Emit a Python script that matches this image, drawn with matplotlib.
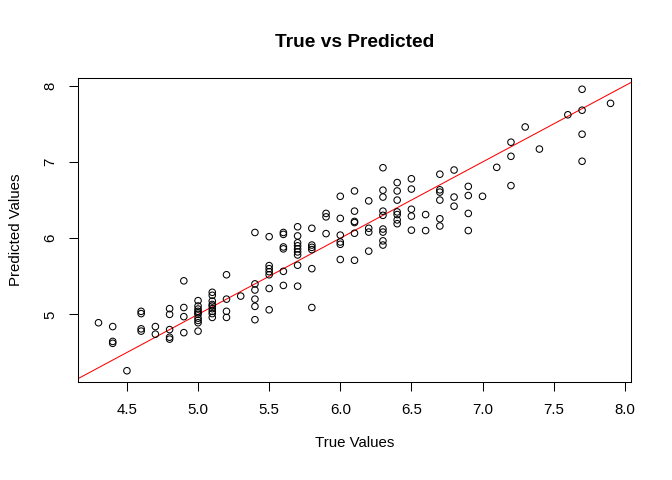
import matplotlib
matplotlib.use("Agg")
import matplotlib.pyplot as plt
import numpy as np

plt.rcParams['font.family'] = ['Liberation Sans', 'DejaVu Sans']

true_values = [
    4.3,
    4.4, 4.4, 4.4,
    4.5,
    4.6, 4.6, 4.6, 4.6,
    4.7, 4.7,
    4.8, 4.8, 4.8, 4.8, 4.8,
    4.9, 4.9, 4.9, 4.9,
    5.0, 5.0, 5.0, 5.0, 5.0, 5.0, 5.0, 5.0, 5.0, 5.0,
    5.1, 5.1, 5.1, 5.1, 5.1, 5.1, 5.1, 5.1, 5.1,
    5.2, 5.2, 5.2, 5.2,
    5.3,
    5.4, 5.4, 5.4, 5.4, 5.4, 5.4,
    5.5, 5.5, 5.5, 5.5, 5.5, 5.5, 5.5,
    5.6, 5.6, 5.6, 5.6, 5.6, 5.6,
    5.7, 5.7, 5.7, 5.7, 5.7, 5.7, 5.7, 5.7, 5.7,
    5.8, 5.8, 5.8, 5.8, 5.8, 5.8,
    5.9, 5.9, 5.9,
    6.0, 6.0, 6.0, 6.0, 6.0, 6.0,
    6.1, 6.1, 6.1, 6.1, 6.1, 6.1,
    6.2, 6.2, 6.2, 6.2,
    6.3, 6.3, 6.3, 6.3, 6.3, 6.3, 6.3, 6.3, 6.3,
    6.4, 6.4, 6.4, 6.4, 6.4, 6.4, 6.4,
    6.5, 6.5, 6.5, 6.5, 6.5,
    6.6, 6.6,
    6.7, 6.7, 6.7, 6.7, 6.7, 6.7,
    6.8, 6.8, 6.8,
    6.9, 6.9, 6.9, 6.9,
    7.0,
    7.1,
    7.2, 7.2, 7.2,
    7.3,
    7.4,
    7.6,
    7.7, 7.7, 7.7, 7.7,
    7.9,
]

predicted_values = [
    4.89,
    4.84, 4.645, 4.62,
    4.26,
    5.04, 5.01, 4.81, 4.78,
    4.84, 4.74,
    5.075, 5.00, 4.80, 4.70, 4.675,
    5.44, 5.09, 4.97, 4.76,
    5.18, 5.11, 5.07, 5.04, 5.02, 5.00, 4.95, 4.92, 4.89, 4.78,
    5.29, 5.25, 5.175, 5.13, 5.11, 5.075, 5.04, 5.01, 4.96,
    5.52, 5.20, 5.04, 4.96,
    5.24,
    6.075, 5.40, 5.32, 5.20, 5.105, 4.93,
    6.02, 5.64, 5.60, 5.56, 5.52, 5.34, 5.06,
    6.075, 6.05, 5.885, 5.86, 5.565, 5.38,
    6.15, 6.03, 5.94, 5.90, 5.86, 5.82, 5.78, 5.645, 5.37,
    6.13, 5.91, 5.88, 5.85, 5.60, 5.09,
    6.325, 6.28, 6.06,
    6.55, 6.26, 6.04, 5.95, 5.92, 5.72,
    6.62, 6.355, 6.22, 6.205, 6.065, 5.71,
    6.49, 6.13, 6.08, 5.83,
    6.925, 6.63, 6.54, 6.355, 6.30, 6.12, 6.08, 5.965, 5.91,
    6.73, 6.62, 6.50, 6.345, 6.31, 6.24, 6.19,
    6.78, 6.645, 6.38, 6.29, 6.105,
    6.31, 6.10,
    6.84, 6.635, 6.605, 6.50, 6.255, 6.16,
    6.895, 6.54, 6.42,
    6.68, 6.56, 6.325, 6.10,
    6.55,
    6.93,
    7.26, 7.075, 6.69,
    7.46,
    7.17,
    7.62,
    7.955, 7.68, 7.365, 7.01,
    7.77,
]

x_ticks = [4.5, 5.0, 5.5, 6.0, 6.5, 7.0, 7.5, 8.0]
x_tick_labels = ["4.5", "5.0", "5.5", "6.0", "6.5", "7.0", "7.5", "8.0"]
y_ticks = [5, 6, 7, 8]
y_tick_labels = ["5", "6", "7", "8"]

fig = plt.figure(figsize=(6.72, 4.8), dpi=100)
ax = fig.add_axes([78/672, 1 - 382/480, (631 - 78)/672, (382 - 78)/480])

ax.scatter(true_values, predicted_values, s=22, facecolors='none',
           edgecolors='black', linewidths=0.75, zorder=3)

xmin, xmax = min(true_values), max(true_values)
ymin, ymax = min(predicted_values), max(predicted_values)
xr, yr = xmax - xmin, ymax - ymin
ax.set_xlim(xmin - 0.04 * xr, xmax + 0.04 * xr)
ax.set_ylim(ymin - 0.04 * yr, ymax + 0.04 * yr)

ax.axline((0, 0), slope=1, color='red', linewidth=0.75, zorder=2)

ax.set_xticks(x_ticks)
ax.set_xticklabels(x_tick_labels)
ax.set_yticks(y_ticks)
ax.set_yticklabels(y_tick_labels, rotation=90, va='center')

ax.tick_params(axis='both', direction='out', length=6.5, width=0.75,
               labelsize=10.8, pad=8.5, colors='black')
for sp in ax.spines.values():
    sp.set_linewidth(0.75)
    sp.set_color('black')

ax.set_xlabel("True Values", fontsize=10.8, labelpad=14)
ax.set_ylabel("Predicted Values", fontsize=10.8, labelpad=14.5)
ax.set_title("True vs Predicted", fontsize=13.8, fontweight='bold', pad=22)

fig.savefig("out.png", dpi=100)
